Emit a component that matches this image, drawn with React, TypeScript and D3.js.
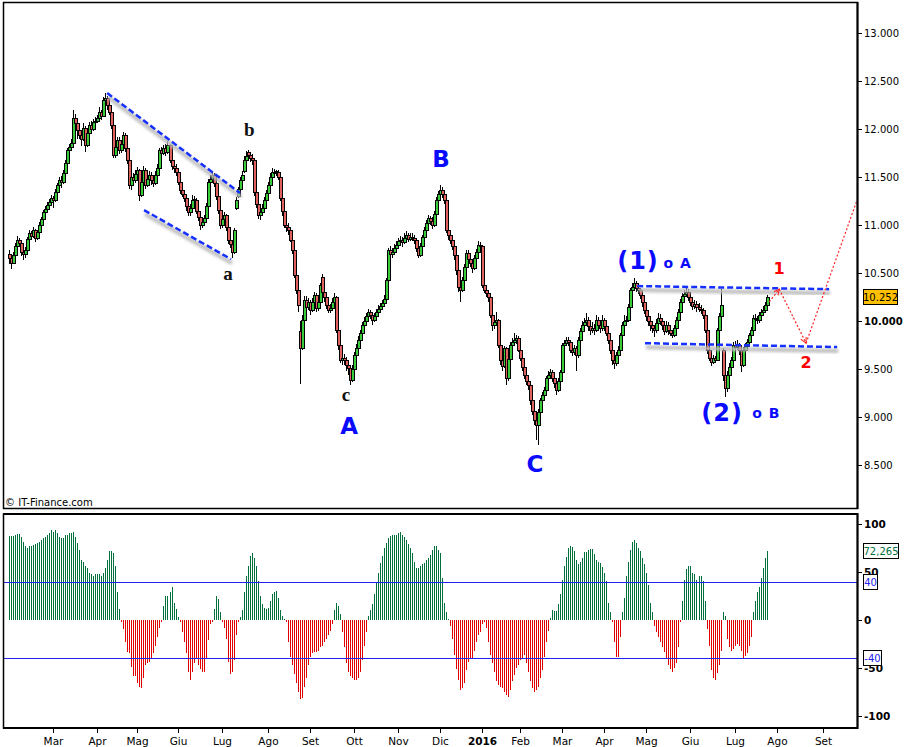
import React from 'react';
import * as d3 from 'd3';

// daily candles, index points
const opens = [
  10700, 10660, 10610, 10690, 10780, 10845, 10810, 10720, 10700, 10740,
  10860, 10920, 10890, 10950, 10870, 10930, 11000, 11060, 11135, 11170,
  11210, 11240, 11280, 11260, 11350, 11420, 11470, 11450, 11540, 11650,
  11783, 11820, 11855, 12115, 12060, 11990, 11940, 11900, 12010, 11835,
  11960, 12045, 12000, 12075, 12090, 12115, 12180, 12140, 12300, 12330,
  12250, 12180, 12045, 11730, 11820, 11890, 11785, 11850, 11940, 11800,
  11680, 11420, 11500, 11470, 11530, 11575, 11315, 11450, 11575, 11420,
  11480, 11520, 11470, 11440, 11520, 11600, 11780, 11750, 11800, 11760,
  11835, 11680, 11620, 11600, 11555, 11450, 11365, 11320, 11280, 11200,
  11135, 11180, 11270, 11260, 11150, 11080, 11000, 11030, 11075, 11200,
  11450, 11480, 11520, 11440, 11300, 11155, 11000, 11060, 11105, 10980,
  10845, 10800, 10720, 11180, 11300, 11380, 11470, 11560, 11680, 11760,
  11730, 11700, 11680, 11345, 11220, 11105, 11140, 11175, 11260, 11340,
  11420, 11500, 11555, 11560, 11555, 11500, 11280, 11150, 11000, 10980,
  10950, 10850, 10740, 10480, 10320, 9900, 9715, 10010, 10220, 10150,
  10195, 10115, 10200, 10270, 10135, 10200, 10460, 10300, 10250, 10165,
  10120, 10135, 10200, 10250, 9905, 9750, 9595, 9620, 9595, 9540,
  9510, 9385, 9500, 9645, 9720, 9800, 9880, 9960, 10000, 10050,
  10095, 10060, 10010, 10050, 10095, 10130, 10160, 10185, 10230, 10425,
  10740, 10700, 10720, 10760, 10795, 10830, 10845, 10820, 10870, 10895,
  10860, 10880, 10870, 10845, 10760, 10690, 10780, 10875, 10950, 11020,
  11075, 11040, 11000, 11120, 11260, 11330, 11365, 11320, 11260, 10950,
  10900, 10845, 10780, 10690, 10530, 10360, 10325, 10425, 10560, 10710,
  10650, 10605, 10555, 10660, 10720, 10795, 10780, 10375, 10325, 10290,
  10250, 10065, 9960, 9990, 10010, 9750, 9595, 9530, 9715, 9405,
  9600, 9750, 9780, 9800, 9820, 9700, 9615, 9520, 9440, 9380,
  9330, 9175, 9060, 8970, 8915, 9050, 9175, 9230, 9280, 9405,
  9440, 9465, 9405, 9350, 9280, 9380, 9465, 9750, 9770, 9800,
  9780, 9700, 9680, 9720, 9645, 9800, 9900, 9960, 9990, 10010,
  9950, 9905, 9930, 9905, 10010, 9960, 9925, 10010, 9950, 9880,
  9800, 9700, 9595, 9560, 9650, 9700, 9850, 9960, 10000, 10010,
  10150, 10325, 10360, 10395, 10350, 10325, 10270, 10200, 10115, 10050,
  10000, 9960, 9930, 9905, 9980, 10030, 10000, 9960, 9900, 9960,
  9905, 9880, 9855, 9930, 10010, 10100, 10200, 10260, 10280, 10300,
  10250, 10200, 10160, 10180, 10145, 10130, 10115, 10060, 9905, 9700,
  9620, 9575, 9615, 9595, 9905, 10050, 9700, 9440, 9300, 9440,
  9520, 9595, 9750, 9730, 9750, 9700, 9540, 9700, 9740, 9780,
  9850, 9905, 10030, 10020, 10010, 10060, 10090, 10120, 10165
];
const highs = [
  10740, 10690, 10720, 10810, 10890, 10870, 10830, 10760, 10770, 10880,
  10950, 10940, 10980, 10960, 10950, 11030, 11080, 11160, 11200, 11240,
  11270, 11310, 11300, 11380, 11440, 11500, 11510, 11570, 11680, 11800,
  11850, 11900, 12200, 12160, 12090, 12060, 11990, 12060, 12030, 11990,
  12080, 12090, 12110, 12130, 12150, 12230, 12200, 12340, 12377, 12350,
  12270, 12200, 12060, 11860, 11920, 11920, 11880, 11970, 11960, 11820,
  11700, 11540, 11540, 11580, 11610, 11590, 11480, 11620, 11600, 11520,
  11560, 11550, 11500, 11560, 11640, 11800, 11820, 11840, 11850, 11880,
  11850, 11720, 11660, 11640, 11580, 11470, 11400, 11360, 11300, 11230,
  11220, 11310, 11300, 11280, 11170, 11100, 11060, 11110, 11230, 11480,
  11520, 11560, 11540, 11460, 11320, 11170, 11100, 11140, 11120, 11000,
  10880, 10830, 10970, 11290, 11400, 11500, 11560, 11720, 11770, 11780,
  11760, 11740, 11690, 11370, 11240, 11180, 11220, 11290, 11370, 11450,
  11540, 11600, 11590, 11580, 11580, 11520, 11300, 11170, 11050, 11020,
  10970, 10870, 10760, 10500, 10340, 10000, 10060, 10260, 10260, 10240,
  10220, 10240, 10300, 10290, 10240, 10400, 10490, 10330, 10280, 10200,
  10180, 10240, 10290, 10260, 9930, 9780, 9680, 9660, 9630, 9580,
  9530, 9540, 9680, 9760, 9840, 9910, 9990, 10040, 10080, 10130,
  10120, 10090, 10080, 10130, 10170, 10190, 10220, 10270, 10450, 10760,
  10780, 10760, 10800, 10830, 10870, 10890, 10880, 10920, 10940, 10920,
  10920, 10920, 10900, 10860, 10780, 10810, 10900, 10980, 11050, 11110,
  11100, 11080, 11150, 11290, 11360, 11415, 11400, 11350, 11280, 10980,
  10930, 10870, 10800, 10700, 10550, 10420, 10460, 10590, 10740, 10740,
  10680, 10640, 10690, 10750, 10830, 10820, 10790, 10420, 10350, 10320,
  10270, 10090, 10060, 10100, 10020, 9770, 9620, 9740, 9730, 9640,
  9780, 9820, 9880, 9850, 9840, 9720, 9640, 9550, 9460, 9400,
  9350, 9200, 9090, 9000, 9080, 9200, 9260, 9310, 9430, 9480,
  9500, 9490, 9430, 9370, 9410, 9490, 9770, 9800, 9830, 9830,
  9800, 9730, 9750, 9740, 9830, 9930, 10000, 10030, 10080, 10040,
  9990, 9990, 9970, 10060, 10040, 10000, 10060, 10030, 9970, 9900,
  9820, 9720, 9630, 9680, 9740, 9880, 9990, 10060, 10050, 10180,
  10350, 10400, 10450, 10420, 10380, 10350, 10290, 10230, 10140, 10080,
  10030, 10000, 9960, 10020, 10080, 10070, 10030, 9990, 10000, 9990,
  9940, 9910, 9960, 10040, 10130, 10230, 10290, 10320, 10350, 10330,
  10270, 10230, 10220, 10210, 10190, 10170, 10140, 10080, 9920, 9730,
  9650, 9650, 9640, 9930, 10080, 10335, 9720, 9460, 9480, 9560,
  9630, 9780, 9790, 9800, 9770, 9720, 9730, 9770, 9810, 9880,
  9940, 10060, 10070, 10050, 10090, 10130, 10160, 10200, 10270
];
const lows = [
  10600, 10540, 10590, 10670, 10760, 10780, 10680, 10640, 10660, 10720,
  10830, 10850, 10870, 10820, 10850, 10910, 10980, 11040, 11110, 11140,
  11190, 11220, 11180, 11240, 11330, 11400, 11390, 11430, 11520, 11630,
  11760, 11790, 11840, 12020, 11900, 11900, 11830, 11880, 11760, 11820,
  11940, 11960, 11980, 12040, 12070, 12100, 12100, 12130, 12280, 12200,
  12150, 12000, 11700, 11700, 11780, 11740, 11750, 11820, 11760, 11640,
  11380, 11370, 11420, 11440, 11500, 11250, 11290, 11430, 11380, 11400,
  11440, 11420, 11400, 11420, 11500, 11580, 11720, 11730, 11720, 11740,
  11650, 11580, 11540, 11510, 11420, 11320, 11290, 11240, 11150, 11100,
  11100, 11160, 11220, 11120, 11040, 10950, 10970, 11000, 11060, 11190,
  11420, 11460, 11400, 11260, 11120, 10960, 10970, 11030, 10940, 10800,
  10760, 10660, 10700, 11160, 11280, 11360, 11450, 11540, 11660, 11680,
  11660, 11630, 11300, 11180, 11060, 11050, 11110, 11150, 11240, 11320,
  11400, 11480, 11500, 11510, 11470, 11250, 11100, 10970, 10930, 10900,
  10820, 10700, 10450, 10280, 10100, 9340, 9700, 9990, 10100, 10120,
  10060, 10090, 10170, 10100, 10110, 10180, 10280, 10200, 10130, 10080,
  10080, 10110, 10170, 9880, 9700, 9560, 9540, 9540, 9480, 9440,
  9330, 9360, 9480, 9620, 9700, 9780, 9860, 9940, 9980, 10020,
  10020, 9960, 9990, 10030, 10080, 10110, 10140, 10170, 10220, 10410,
  10650, 10660, 10700, 10740, 10770, 10800, 10770, 10800, 10850, 10820,
  10830, 10830, 10800, 10720, 10660, 10670, 10760, 10850, 10930, 11000,
  11000, 10960, 10980, 11100, 11240, 11310, 11280, 11220, 10920, 10850,
  10800, 10740, 10640, 10480, 10300, 10200, 10300, 10400, 10540, 10610,
  10560, 10500, 10530, 10640, 10700, 10740, 10340, 10290, 10250, 10200,
  10030, 9900, 9920, 9960, 9720, 9540, 9480, 9510, 9330, 9380,
  9580, 9720, 9750, 9760, 9680, 9580, 9480, 9400, 9330, 9280,
  9130, 9020, 8920, 8760, 8707, 9030, 9150, 9200, 9260, 9380,
  9410, 9370, 9300, 9230, 9260, 9360, 9450, 9730, 9750, 9740,
  9670, 9640, 9650, 9480, 9620, 9780, 9880, 9940, 9960, 9900,
  9860, 9880, 9860, 9890, 9920, 9880, 9900, 9900, 9840, 9760,
  9660, 9540, 9500, 9530, 9620, 9680, 9830, 9930, 9950, 9990,
  10130, 10300, 10340, 10300, 10280, 10230, 10150, 10070, 10000, 9950,
  9900, 9880, 9830, 9880, 9960, 9960, 9910, 9860, 9880, 9860,
  9840, 9820, 9830, 9910, 9990, 10080, 10180, 10240, 10260, 10210,
  10160, 10120, 10130, 10100, 10090, 10070, 10020, 9880, 9660, 9580,
  9530, 9550, 9560, 9580, 9890, 10030, 9380, 9210, 9260, 9420,
  9500, 9580, 9690, 9700, 9650, 9470, 9520, 9680, 9720, 9760,
  9830, 9890, 9980, 9970, 9980, 10040, 10070, 10100, 10150
];
const closes = [
  10660, 10610, 10690, 10780, 10845, 10810, 10720, 10700, 10740, 10860,
  10920, 10890, 10950, 10870, 10930, 11000, 11060, 11135, 11170, 11210,
  11240, 11280, 11260, 11350, 11420, 11470, 11450, 11540, 11650, 11783,
  11820, 11855, 12115, 12060, 11990, 11940, 11900, 12010, 11835, 11960,
  12045, 12000, 12075, 12090, 12115, 12180, 12140, 12300, 12330, 12250,
  12180, 12045, 11730, 11820, 11890, 11785, 11850, 11940, 11800, 11680,
  11420, 11500, 11470, 11530, 11575, 11315, 11450, 11575, 11420, 11480,
  11520, 11470, 11440, 11520, 11600, 11780, 11750, 11800, 11760, 11835,
  11680, 11620, 11600, 11555, 11450, 11365, 11320, 11280, 11200, 11135,
  11180, 11260, 11260, 11150, 11080, 11000, 11030, 11075, 11200, 11450,
  11480, 11520, 11440, 11300, 11155, 11000, 11060, 11105, 10980, 10845,
  10800, 10720, 10950, 11260, 11380, 11470, 11520, 11680, 11720, 11730,
  11700, 11680, 11345, 11220, 11105, 11140, 11175, 11260, 11340, 11420,
  11500, 11555, 11540, 11555, 11500, 11280, 11150, 11000, 10980, 10950,
  10850, 10740, 10480, 10320, 10165, 9715, 10010, 10220, 10150, 10195,
  10115, 10200, 10270, 10135, 10200, 10380, 10300, 10250, 10165, 10120,
  10135, 10200, 10250, 9905, 9750, 9595, 9620, 9595, 9540, 9510,
  9385, 9500, 9645, 9720, 9800, 9880, 9960, 10000, 10050, 10095,
  10060, 10010, 10050, 10095, 10130, 10160, 10185, 10230, 10425, 10740,
  10700, 10720, 10760, 10795, 10830, 10845, 10820, 10870, 10895, 10860,
  10880, 10870, 10845, 10760, 10690, 10780, 10875, 10950, 11020, 11075,
  11040, 11000, 11120, 11260, 11330, 11365, 11320, 11260, 10950, 10900,
  10845, 10780, 10690, 10530, 10360, 10325, 10425, 10560, 10710, 10650,
  10605, 10555, 10660, 10720, 10795, 10780, 10375, 10325, 10290, 10250,
  10065, 9960, 9990, 10010, 9750, 9595, 9530, 9715, 9405, 9600,
  9750, 9780, 9800, 9820, 9700, 9615, 9520, 9440, 9380, 9330,
  9175, 9060, 8970, 8915, 9050, 9175, 9230, 9280, 9405, 9440,
  9465, 9405, 9350, 9280, 9380, 9465, 9750, 9770, 9800, 9780,
  9700, 9680, 9720, 9645, 9800, 9900, 9960, 9990, 10010, 9950,
  9905, 9930, 9905, 10010, 9960, 9925, 10010, 9950, 9880, 9800,
  9700, 9595, 9560, 9650, 9700, 9850, 9960, 10000, 10010, 10150,
  10325, 10360, 10395, 10350, 10325, 10270, 10200, 10115, 10050, 10000,
  9960, 9930, 9905, 9980, 10030, 10000, 9960, 9900, 9960, 9905,
  9880, 9855, 9930, 10010, 10100, 10200, 10260, 10280, 10300, 10250,
  10200, 10160, 10180, 10145, 10130, 10115, 10060, 9905, 9700, 9620,
  9575, 9615, 9595, 9905, 10050, 10165, 9440, 9300, 9440, 9520,
  9595, 9750, 9730, 9750, 9700, 9540, 9700, 9740, 9780, 9850,
  9905, 10030, 10020, 10010, 10060, 10090, 10120, 10165, 10252
];

// oscillator histogram, one bar per session
const oscillator = [
  88, 88, 88, 89, 90, 90, 87, 82, 77, 75, 77, 77, 78,
  79, 80, 82, 84, 86, 87, 89, 91, 94, 92,
  94, 91, 87, 86, 86, 89, 89, 91, 91, 92, 87,
  80, 73, 63, 61, 56, 54, 49,
  48, 46, 48, 48, 48, 46, 49,
  54, 63, 72, 72, 70, 56, 29, 11,
  -2, -9, -23, -33, -35, -49, -59, -59, -66, -70, -71, -61, -47, -45, -44, -40, -35, -27, -18, -8, -2,
  15, 25, 25, 29, 34, 18, 11, 3,
  -2, -13, -23, -35, -54, -63, -54, -45, -40, -47, -51, -54, -54, -40, -21, -4, -2,
  11, 25, 22, 8,
  -2, -8, -20, -44, -56, -54, -42, -16, -2,
  3, 10, 29, 46, 56, 67, 70, 65, 56, 41, 25, 17, 13, 11, 13, 20, 27, 29, 30, 23, 10, 4, 1,
  -2, -23, -39, -47, -56, -66, -75, -83, -81, -70, -61, -47, -39, -35, -33, -33, -32, -28, -27, -23, -20, -16, -11, -4,
  10, 18, 15, 6,
  -13, -28, -45, -54, -58, -61, -63, -63, -61, -54, -42, -27, -13,
  4, 10, 17, 27, 39, 49, 60, 67, 75, 80, 86, 88, 89, 89, 89, 91, 92, 89, 87, 84,
  79, 75, 70, 61, 54, 54, 56, 58, 60, 63, 65, 68, 73, 77, 77, 73, 70, 44, 18, 8, 1,
  -6, -20, -37, -51, -63, -73, -71, -66, -52, -44, -40, -40, -32, -23, -16, -13, -4, -2,
  -8, -23, -37, -45, -54, -64, -68, -70, -71, -75, -78, -80, -73, -64, -57, -50,
  -47, -42, -40, -37, -45, -54, -64, -71, -75, -73, -70, -61, -52, -39, -23, -11,
  2, 10, 9, 9, 17, 27, 42, 56, 66, 75, 77, 76, 72, 63, 59, 61, 65, 71, 71, 73,
  74, 74, 69, 63, 61, 60, 55, 49, 41, 18, 8,
  -2, -23, -39, -39, -18,
  8, 23, 46, 61, 73, 82, 84, 80, 75, 72, 65, 59, 49, 37, 18, 8,
  -6, -13, -18, -23, -28, -33, -40, -47, -51, -54, -50, -45, -28, -2,
  20, 42, 53, 56, 56, 49, 48, 42, 46, 46, 41, 20,
  -9, -27, -52, -61, -63, -55, -47, -32,
  8, 4,
  -20, -28, -32, -30, -27, -25, -27, -32, -40, -38, -35, -27, -18,
  8, 20, 29, 34, 44, 54, 65, 72.265
];

// month labels and the session index where each month starts
const monthLabels = ['Mar', 'Apr', 'Mag', 'Giu', 'Lug', 'Ago', 'Set', 'Ott', 'Nov', 'Dic', '2016', 'Feb', 'Mar', 'Apr', 'Mag', 'Giu', 'Lug', 'Ago', 'Set'];
const monthStart = [22, 44, 64, 84, 106, 129, 150, 172, 194, 215, 236, 255, 276, 297, 318, 340, 362, 383, 406];

const priceTicks = [8500, 9000, 9500, 10000, 10500, 11000, 11500, 12000, 12500, 13000];
const oscTicks = [-100, -50, 0, 50, 100];
const oscLevels = [40, -40];

// drawn trendlines [session, price]
const channelUpper = [[48.9, 12377], [115.2, 11335]];
const channelLower = [[67.3, 11157], [110.7, 10646]];
const rangeTop = [[313.4, 10365], [409.2, 10333]];
const rangeBottom = [[317.3, 9770], [413.2, 9729]];
const projection = [[379.3, 10200], [384.3, 10333], [397.7, 9770], [423.1, 11260]];

const waveLabels = [
  { t: 'b', i: 119.8, v: 12000, kind: 'minor' },
  { t: 'a', i: 109.2, v: 10500, kind: 'minor' },
  { t: 'c', i: 168.1, v: 9230, kind: 'minor' },
  { t: 'A', i: 169.6, v: 8910, kind: 'major' },
  { t: 'B', i: 215.5, v: 11690, kind: 'major' },
  { t: 'C', i: 262.4, v: 8510, kind: 'major' },
  { t: '(1)', i: 313.8, v: 10625, kind: 'big' },
  { t: 'o A', i: 333.6, v: 10604, kind: 'small' },
  { t: '(2)', i: 355.8, v: 9040, kind: 'big' },
  { t: 'o B', i: 377.9, v: 9040, kind: 'small' },
  { t: '1', i: 384.2, v: 10553, kind: 'red' },
  { t: '2', i: 397.7, v: 9572, kind: 'red' }
];

const labelStyle = {
  minor: { fontFamily: 'Liberation Serif', fontSize: 19, fill: '#111' },
  major: { fontFamily: 'DejaVu Sans', fontSize: 23, fill: '#0a0aff' },
  big: { fontFamily: 'DejaVu Sans', fontSize: 24, fill: '#0a0aff', letterSpacing: 1 },
  small: { fontFamily: 'DejaVu Sans', fontSize: 14, fill: '#0a0aff', letterSpacing: 1 },
  red: { fontFamily: 'DejaVu Sans', fontSize: 16, fill: '#ff0000' }
};

const GREEN = '#3acb3a';
const RED = '#e0625e';
const OSC_GREEN = '#00703c';
const OSC_RED = '#e00000';
const BLUE = '#1530ff';

export default function App () {
  const x = d3.scaleLinear().domain([0, 423.1]).range([9.2, 857]);
  const y = d3.scaleLinear().domain([8500, 13000]).range([465, 33.3]);
  const yo = d3.scaleLinear().domain([-100, 100]).range([715.7, 524.3]);
  const it = d3.formatLocale({ decimal: ',', thousands: '.', grouping: [3], currency: ['€', ''] });
  const fmtPrice = it.format(',');
  const fmtOsc = it.format(',.3f');
  const line = d3.line().x(d => x(d[0])).y(d => y(d[1]));

  const lastClose = closes[closes.length - 1];
  const lastOsc = oscillator[oscillator.length - 1];

  const trend = (pts, key) => (
    <g key={key}>
      <path d={line(pts)} stroke='#bdbdbd' strokeWidth={4} fill='none' transform='translate(1,4)' filter='url(#blur)' />
      <path d={line(pts)} stroke={BLUE} strokeWidth={2.5} strokeDasharray='6,3' fill='none' />
    </g>
  );

  return (
    <div>
      <style>{'body{margin:0}'}</style>
      <svg width={906} height={747} style={{ display: 'block', background: '#fff' }}>
        <defs>
          <filter id='blur' x='-10%' y='-50%' width='120%' height='200%'>
            <feGaussianBlur stdDeviation='1.6' />
          </filter>
          <marker id='arr' markerWidth='7' markerHeight='7' refX='6' refY='3' orient='auto' markerUnits='userSpaceOnUse'>
            <path d='M0,0 L6,3 L0,6' fill='none' stroke='#ff2020' strokeWidth='1' />
          </marker>
          <clipPath id='upper'><rect x={3} y={2} width={854} height={506} /></clipPath>
        </defs>

        {/* upper panel */}
        <g clipPath='url(#upper)'>
          {closes.map((c, i) => {
            const cx = Math.round(x(i));
            const o = opens[i];
            const top = Math.round(y(Math.max(o, c)));
            const bot = Math.round(y(Math.min(o, c)));
            return (
              <g key={i} shapeRendering='crispEdges'>
                <line x1={cx + 0.5} x2={cx + 0.5} y1={Math.round(y(highs[i]))} y2={Math.round(y(lows[i]))} stroke='#000' strokeWidth={1} />
                <rect x={cx - 0.5} y={top + 0.5} width={3} height={Math.max(1, bot - top)} fill={c >= o ? GREEN : RED} stroke='#000' strokeWidth={1} />
              </g>
            );
          })}
          {trend(channelUpper, 'cu')}
          {trend(channelLower, 'cl')}
          {trend(rangeTop, 'rt')}
          {trend(rangeBottom, 'rb')}
          <path d={line(projection.slice(0, 2))} stroke='#ff2020' strokeWidth={1.2} strokeDasharray='2,2' fill='none' markerEnd='url(#arr)' />
          <path d={line(projection.slice(1, 3))} stroke='#ff2020' strokeWidth={1.2} strokeDasharray='2,2' fill='none' markerEnd='url(#arr)' />
          <path d={line(projection.slice(2))} stroke='#ff2020' strokeWidth={1.2} strokeDasharray='2,2' fill='none' />
        </g>

        {waveLabels.map((l, k) => (
          <text key={k} x={x(l.i)} y={y(l.v)} textAnchor='middle' dominantBaseline='central' fontWeight='bold' {...labelStyle[l.kind]}>{l.t}</text>
        ))}

        <text x={5} y={506} fontFamily='DejaVu Sans' fontSize={10} fill='#000'>© IT-Finance.com</text>

        <rect x={3.5} y={2.5} width={854} height={506} fill='none' stroke='#000' strokeWidth={1.5} />
        <line x1={857.5} x2={857.5} y1={2} y2={509} stroke='#000' strokeWidth={2} />
        {priceTicks.map(t => (
          <g key={t}>
            <line x1={858} x2={862} y1={Math.round(y(t)) + 0.5} y2={Math.round(y(t)) + 0.5} stroke='#000' />
            <text x={864} y={y(t)} dominantBaseline='central' fontFamily='DejaVu Sans' fontSize={10} fontWeight={t === 10000 ? 'bold' : 'normal'}>{fmtPrice(t)}</text>
          </g>
        ))}
        <rect x={863.5} y={Math.round(y(lastClose)) - 7.5} width={34} height={15} fill='#ffc000' stroke='#000' />
        <text x={880.5} y={y(lastClose) + 0.5} textAnchor='middle' dominantBaseline='central' fontFamily='DejaVu Sans' fontSize={10}>{fmtPrice(lastClose)}</text>

        {/* lower panel */}
        <g shapeRendering='crispEdges'>
          {oscillator.map((v, i) => {
            const cx = Math.round(x(i)) + 0.5;
            return <line key={i} x1={cx} x2={cx} y1={yo(0)} y2={yo(v)} stroke={v >= 0 ? OSC_GREEN : OSC_RED} strokeWidth={1} />;
          })}
          {oscLevels.map(l => (
            <line key={l} x1={3} x2={857} y1={Math.round(yo(l)) + 0.5} y2={Math.round(yo(l)) + 0.5} stroke='#2222ee' strokeWidth={1} />
          ))}
        </g>
        <rect x={3.5} y={514} width={854} height={214} fill='none' stroke='#000' strokeWidth={1.5} />
        <line x1={3} x2={858} y1={514} y2={514} stroke='#000' strokeWidth={2} />
        <line x1={3} x2={858} y1={728} y2={728} stroke='#000' strokeWidth={2} />
        <line x1={857.5} x2={857.5} y1={513} y2={729} stroke='#000' strokeWidth={2} />
        {oscTicks.map(t => (
          <g key={t}>
            <line x1={858} x2={862} y1={Math.round(yo(t)) + 0.5} y2={Math.round(yo(t)) + 0.5} stroke='#000' />
            <text x={864} y={yo(t)} dominantBaseline='central' fontFamily='DejaVu Sans' fontSize={10.5} fontWeight='bold'>{t}</text>
          </g>
        ))}
        <rect x={863.5} y={Math.round(yo(lastOsc)) - 7.5} width={35} height={15} fill='#fff' stroke='#000' />
        <text x={881} y={yo(lastOsc) + 0.5} textAnchor='middle' dominantBaseline='central' fontFamily='DejaVu Sans' fontSize={10} fill={OSC_GREEN}>{fmtOsc(lastOsc)}</text>
        {oscLevels.map(l => {
          const w = l < 0 ? 18 : 14;
          return (
            <g key={l}>
              <rect x={863.5} y={Math.round(yo(l)) - 7.5} width={w} height={15} fill='#fff' stroke='#000' />
              <text x={863.5 + w / 2} y={yo(l) + 0.5} textAnchor='middle' dominantBaseline='central' fontFamily='DejaVu Sans' fontSize={10} fill='#2222ee'>{l}</text>
            </g>
          );
        })}

        {/* time axis */}
        {monthLabels.map((m, k) => {
          const mx = Math.round(x(monthStart[k])) + 0.5;
          return (
            <g key={k}>
              <line x1={mx} x2={mx} y1={729} y2={733} stroke='#000' />
              <text x={mx} y={745} textAnchor='middle' fontFamily='DejaVu Sans' fontSize={10.5} fontWeight={m === '2016' ? 'bold' : 'normal'}>{m}</text>
            </g>
          );
        })}
      </svg>
    </div>
  );
}
